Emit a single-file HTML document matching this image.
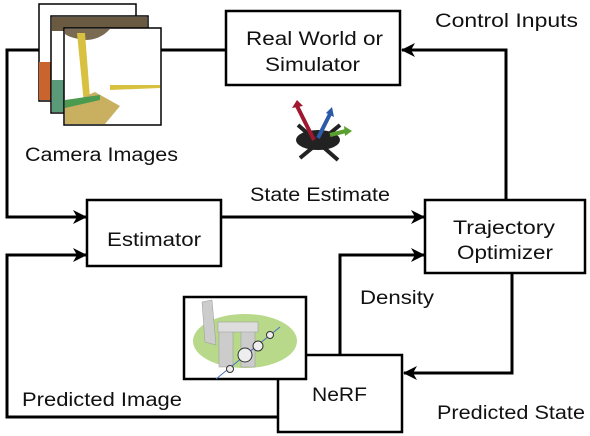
<!DOCTYPE html>
<html><head><style>
body{margin:0;background:#fff;}
svg{display:block}
text{font-family:"Liberation Sans",sans-serif;font-size:19px;fill:#111;}
</style></head><body>
<svg width="590" height="436" viewBox="0 0 590 436">
<defs><marker id="a" markerWidth="14" markerHeight="14" refX="13" refY="7" orient="auto" markerUnits="userSpaceOnUse"><path d="M0,0 L14,7 L0,14 L4,7 Z" fill="#000"/></marker></defs>
<g stroke="#000" stroke-width="3" fill="none">
<polyline points="506,200 506,50 402,50" marker-end="url(#a)"/>
<polyline points="226,50 7,50 7,217 86,217" marker-end="url(#a)"/>
<polyline points="221,217 424,217" marker-end="url(#a)"/>
<polyline points="340,355 340,255 424,255" marker-end="url(#a)"/>
<polyline points="512,273 512,373 404,373" marker-end="url(#a)"/>
<polyline points="278,417 7,417 7,255 86,255" marker-end="url(#a)"/>
</g>
<g stroke="#000" stroke-width="2.5" fill="#fff">
<rect x="226" y="11" width="174" height="74"/>
<rect x="87" y="200" width="134" height="66"/>
<rect x="425" y="200" width="160" height="73"/>
<rect x="278" y="355" width="124" height="77"/>
</g>
<!-- camera images -->
<rect x="39" y="4" width="97" height="97" fill="#fff" stroke="#000" stroke-width="1.5"/>
<rect x="39" y="62" width="12" height="38" fill="#c8642c"/>
<rect x="51" y="16" width="97" height="97" fill="#fff" stroke="#000" stroke-width="1.5"/>
<rect x="52" y="17" width="95" height="14" fill="#6b5a42"/>
<rect x="52" y="80" width="12" height="32" fill="#5a9a78"/>
<rect x="64" y="28" width="97" height="97" fill="#fff" stroke="#000" stroke-width="1.5"/>
<path d="M65,29 H110 Q100,40 85,40 Q70,38 65,34Z" fill="#7a6a52"/>
<path d="M77,33 L85,33 L92,124 L86,124Z" fill="#d8c040"/>
<path d="M65,105 L95,92 L120,106 L105,124 L65,124Z" fill="#c8b060"/>
<path d="M65,100 L100,95 L100,100 L65,108Z" fill="#4a9a50"/>
<path d="M110,85 L160,85 L160,88 L110,90Z" fill="#d8c040"/>
<!-- drone -->
<g>
<ellipse cx="318" cy="140" rx="22" ry="10" fill="#222"/>
<line x1="298" y1="125" x2="338" y2="160" stroke="#222" stroke-width="4"/>
<line x1="340" y1="125" x2="300" y2="158" stroke="#222" stroke-width="4"/>
<line x1="314" y1="140" x2="297" y2="106" stroke="#a01830" stroke-width="4"/>
<path d="M292,108 L297,100 L303,106Z" fill="#a01830"/>
<line x1="318" y1="138" x2="330" y2="114" stroke="#2a5aa8" stroke-width="4"/>
<path d="M326,113 L332,107 L334,117Z" fill="#2a5aa8"/>
<line x1="330" y1="135" x2="346" y2="131" stroke="#5aa030" stroke-width="4"/>
<path d="M344,126 L352,131 L345,136Z" fill="#5aa030"/>
</g>
<!-- nerf image -->
<rect x="184" y="297" width="122" height="82" fill="#fff" stroke="#000" stroke-width="2.5"/>
<ellipse cx="245" cy="341" rx="52" ry="27" fill="#b8d88a"/>
<path d="M202,302 L212,300 L216,345 L205,342Z" fill="#ccc" stroke="#999" stroke-width="0.5"/>
<rect x="219" y="325" width="14" height="42" fill="#ccc" stroke="#999" stroke-width="0.5"/>
<rect x="241" y="330" width="14" height="37" fill="#ccc" stroke="#999" stroke-width="0.5"/>
<rect x="218" y="322" width="40" height="10" fill="#ddd" stroke="#999" stroke-width="0.5"/>
<line x1="216" y1="379" x2="280" y2="327" stroke="#4a70c8" stroke-width="1"/>
<g stroke="#333" stroke-width="1" fill="#eee">
<circle cx="230" cy="369" r="3.5"/><circle cx="245" cy="355" r="7"/><circle cx="258" cy="346" r="5"/><circle cx="270" cy="335" r="3.5"/>
</g>
<text x="246" y="45" textLength="137" lengthAdjust="spacingAndGlyphs">Real World or</text>
<text x="265" y="71" textLength="95" lengthAdjust="spacingAndGlyphs">Simulator</text>
<text x="107" y="246" textLength="94" lengthAdjust="spacingAndGlyphs">Estimator</text>
<text x="453" y="234" textLength="102" lengthAdjust="spacingAndGlyphs">Trajectory</text>
<text x="457" y="259" textLength="96" lengthAdjust="spacingAndGlyphs">Optimizer</text>
<text x="312" y="401" textLength="55" lengthAdjust="spacingAndGlyphs">NeRF</text>
<text x="435" y="27" textLength="143" lengthAdjust="spacingAndGlyphs">Control Inputs</text>
<text x="25" y="161" textLength="153" lengthAdjust="spacingAndGlyphs">Camera Images</text>
<text x="250" y="201" textLength="140" lengthAdjust="spacingAndGlyphs">State Estimate</text>
<text x="360" y="304" textLength="74" lengthAdjust="spacingAndGlyphs">Density</text>
<text x="22" y="406" textLength="160" lengthAdjust="spacingAndGlyphs">Predicted Image</text>
<text x="437" y="419" textLength="148" lengthAdjust="spacingAndGlyphs">Predicted State</text>
</svg>
</body></html>
